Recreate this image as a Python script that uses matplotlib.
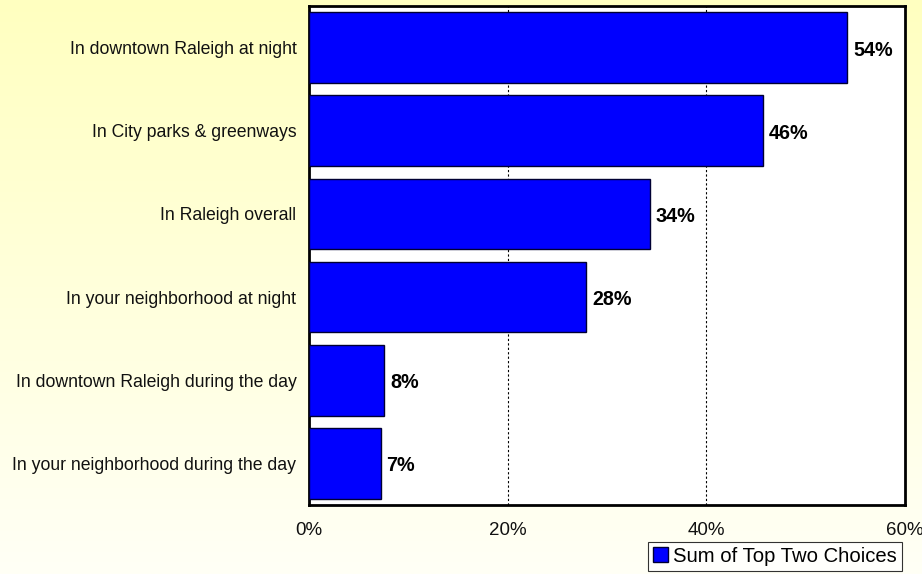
import matplotlib
matplotlib.use("Agg")
import matplotlib.pyplot as plt
import numpy as np
from matplotlib.colors import LinearSegmentedColormap
from matplotlib.patches import Patch

categories = [
    "In downtown Raleigh at night",
    "In City parks & greenways",
    "In Raleigh overall",
    "In your neighborhood at night",
    "In downtown Raleigh during the day",
    "In your neighborhood during the day",
]
values = [54.2, 45.7, 34.3, 27.9, 7.6, 7.2]
labels = ["54%", "46%", "34%", "28%", "8%", "7%"]
xticks = [0, 20, 40, 60]
xticklabels = ["0%", "20%", "40%", "60%"]
series_name = "Sum of Top Two Choices"

plt.rcParams['font.family'] = ['Liberation Sans', 'DejaVu Sans']

W, H = 922, 574
fig = plt.figure(figsize=(W/100, H/100), dpi=100)

# background gradient
bg = fig.add_axes([0, 0, 1, 1])
bg.set_axis_off()
cmap = LinearSegmentedColormap.from_list("bg", ["#FFFFC0", "#FFFFF6"])
grad = np.linspace(0, 1, 256).reshape(-1, 1)
bg.imshow(grad, aspect='auto', cmap=cmap, extent=[0, 1, 0, 1], origin='upper')
bg.set_xlim(0, 1); bg.set_ylim(0, 1)

left, right, top, bottom = 309, 905, 6, 505
ax = fig.add_axes([left/W, 1-bottom/H, (right-left)/W, (bottom-top)/H])
ax.set_facecolor("white")

y = np.arange(len(categories))
bars = ax.barh(y, values, height=0.85, color="#0000FF", edgecolor="#000033", linewidth=1.0, zorder=3)
ax.set_ylim(len(categories)-0.5, -0.5)
ax.set_xlim(0, 60)

for b, lab in zip(bars, labels):
    ax.text(b.get_width() + 0.6, b.get_y() + b.get_height()/2 + 0.03, lab,
            va='center', ha='left', fontsize=14.2, fontweight='bold', color='black', zorder=4)

ax.set_yticks(y)
ax.set_yticklabels(categories, fontsize=12.7, color="#111111")
ax.set_xticks(xticks)
ax.set_xticklabels(xticklabels, fontsize=13.5, color="#111111")
ax.tick_params(axis='both', length=0)
ax.tick_params(axis='x', pad=12)
ax.tick_params(axis='y', pad=9)

for xv in [20, 40]:
    ax.axvline(xv, color='black', linestyle=(0, (2, 2)), linewidth=0.8, zorder=1)

for s in ax.spines.values():
    s.set_linewidth(2)
    s.set_color('black')

# legend
leg = fig.legend(handles=[Patch(facecolor="#0000FF", edgecolor="#000033", label=series_name)],
                 loc='lower right', bbox_to_anchor=(902/W, 1-571/H),
                 frameon=True, fancybox=False, fontsize=14.6, handlelength=0.75, handleheight=0.75,
                 handletextpad=0.25, borderpad=0.25, borderaxespad=0)
leg.get_frame().set_edgecolor('black')
leg.get_frame().set_linewidth(0.8)
leg.get_frame().set_facecolor('white')

fig.savefig("out.png", dpi=100)
